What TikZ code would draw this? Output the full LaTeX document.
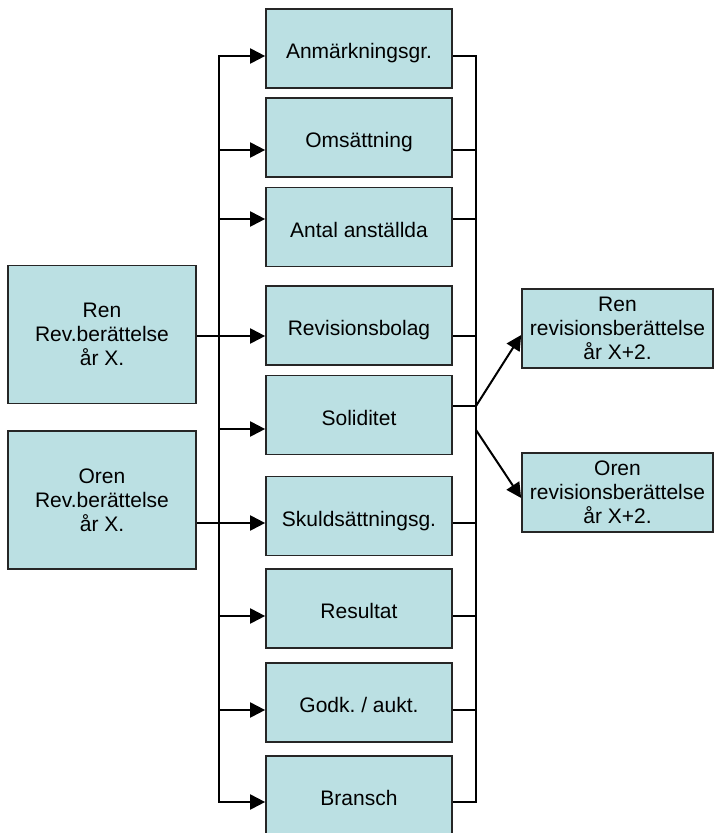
\documentclass[tikz,border=0pt]{standalone}
\usepackage{fontspec}
\setmainfont{Liberation Sans}
\frenchspacing
\usetikzlibrary{arrows.meta,calc}
\definecolor{boxfill}{HTML}{BBE0E3}
\definecolor{boxline}{HTML}{262626}
\begin{document}
\begin{tikzpicture}[x=1pt,y=-1pt,
  box/.style={draw=boxline, line width=1.7pt, fill=boxfill, rectangle, inner sep=0pt, align=center, font=\fontsize{21}{24}\selectfont},
  sidebox/.style={box, minimum width=188pt, minimum height=138pt},
  midbox/.style={box, minimum width=186pt, minimum height=79pt, text height=25pt, text depth=5pt},
  resbox/.style={box, minimum width=191pt, minimum height=79pt},
  conn/.style={line width=2pt, black},
  arr/.style={conn, -{Triangle[length=15pt,width=15pt]}}]
\useasboundingbox (0,0) rectangle (714,833);

% left boxes
\node[sidebox] (ren) at (102,334.5) {Ren\\Rev.berättelse\\år X.};
\node[sidebox] (oren) at (102,500) {Oren\\Rev.berättelse\\år X.};

% middle boxes
\node[midbox] (anm) at (359,48.5) {Anmärkningsgr.};
\node[midbox] (oms) at (359,137.5) {Omsättning};
\node[midbox] (ant) at (359,227) {Antal anställda};
\node[midbox] (rev) at (359,325.5) {Revisionsbolag};
\node[midbox] (sol) at (359,415) {Soliditet};
\node[midbox] (sku) at (359,516) {Skuldsättningsg.};
\node[midbox] (res) at (359,608.5) {Resultat};
\node[midbox] (god) at (359,702.5) {Godk. / aukt.};
\node[midbox] (bra) at (359,795.5) {Bransch};

% result boxes
\node[resbox] (rren) at (617.5,328.5) {Ren\\revisionsberättelse\\år X+2.};
\node[resbox] (roren) at (617.5,492.5) {Oren\\revisionsberättelse\\år X+2.};

% left bus coordinates
\coordinate (la1) at (219,56);
\coordinate (la2) at (219,150);
\coordinate (la3) at (219,219);
\coordinate (la4) at (219,336);
\coordinate (la5) at (219,429);
\coordinate (la6) at (219,523);
\coordinate (la7) at (219,616);
\coordinate (la8) at (219,710);
\coordinate (la9) at (219,802);

% right bus coordinates
\coordinate (ra1) at (476,56);
\coordinate (ra2) at (476,150);
\coordinate (ra3) at (476,219);
\coordinate (ra4) at (476,336);
\coordinate (ra5) at (476,406);
\coordinate (ra6) at (476,523);
\coordinate (ra7) at (476,616);
\coordinate (ra8) at (476,710);
\coordinate (ra9) at (476,802);
\coordinate (d2) at (476,430);
\coordinate (t1) at ($(rren.west)+(0,6.5)$);
\coordinate (t2) at ($(roren.west)+(0,5.5)$);

% left bus
\draw[conn, line cap=rect] (la1) -- (la9);
\draw[arr] (la1) -- (la1 -| anm.west);
\draw[arr] (la2) -- (la2 -| oms.west);
\draw[arr] (la3) -- (la3 -| ant.west);
\draw[arr] (la5) -- (la5 -| sol.west);
\draw[arr] (la7) -- (la7 -| res.west);
\draw[arr] (la8) -- (la8 -| god.west);
\draw[arr] (la9) -- (la9 -| bra.west);

% from left boxes
\draw[arr] (ren.east |- la4) -- (la4 -| rev.west);
\draw[arr] (oren.east |- la6) -- (la6 -| sku.west);

% right bus
\draw[conn, line cap=rect] (ra1) -- (ra9);
\draw[conn] (anm.east |- ra1) -- (ra1);
\draw[conn] (oms.east |- ra2) -- (ra2);
\draw[conn] (ant.east |- ra3) -- (ra3);
\draw[conn] (rev.east |- ra4) -- (ra4);
\draw[conn] (sol.east |- ra5) -- (ra5);
\draw[conn] (sku.east |- ra6) -- (ra6);
\draw[conn] (res.east |- ra7) -- (ra7);
\draw[conn] (god.east |- ra8) -- (ra8);
\draw[conn] (bra.east |- ra9) -- (ra9);

% outcomes
\draw[arr] (ra5) -- (t1);
\draw[arr] (d2) -- (t2);
\end{tikzpicture}
\end{document}
